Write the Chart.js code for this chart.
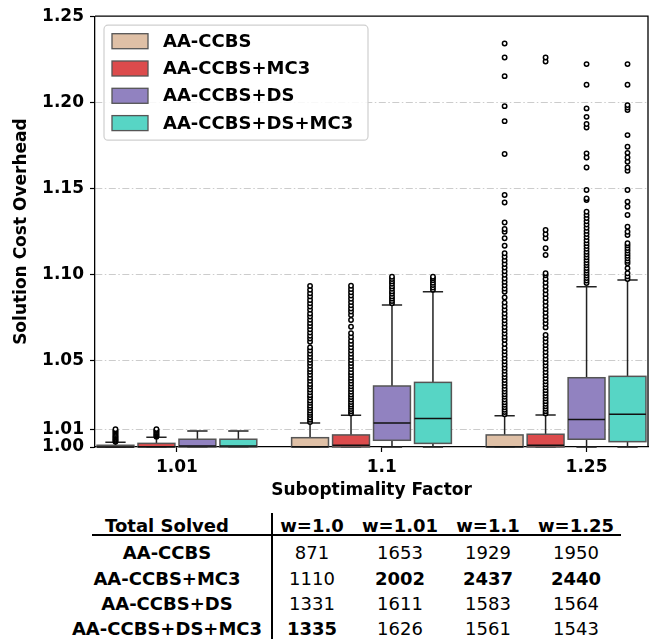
<!DOCTYPE html>
<html>
<head>
<meta charset="utf-8">
<script src="https://cdn.jsdelivr.net/npm/chart.js@4.4.1/dist/chart.umd.min.js"></script>
<style>
  html, body { margin: 0; padding: 0; background: #fff; }
  #wrap { position: relative; width: 659px; height: 639px; overflow: hidden; font-family: "DejaVu Sans", sans-serif; }
  #chart { position: absolute; left: 0; top: 0; }
  .cell { position: absolute; transform: translateX(-50%); font-size: 18px; line-height: 21px; white-space: nowrap; color: #000; }
  .b { font-weight: bold; }
  .hline { position: absolute; left: 92px; width: 529px; top: 534px; height: 1.5px; background: #000; }
  .vline { position: absolute; left: 271px; width: 1.5px; top: 513px; height: 126px; background: #000; }
</style>
</head>
<body>
<div id="wrap">
  <canvas id="chart" width="659" height="505"></canvas>
  <div id="table"></div>
</div>
<script>

/* =========================
   DATA
========================= */

const factors = ["1.01", "1.1", "1.25"];
const seriesNames = ["AA-CCBS", "AA-CCBS+MC3", "AA-CCBS+DS", "AA-CCBS+DS+MC3"];
const seriesColors = ["#dfc0a6", "#dc4b4c", "#9182c0", "#57d5c5"];
const yTicks = [1.00, 1.01, 1.05, 1.10, 1.15, 1.20, 1.25];

// [lower whisker, q1, median, q3, upper whisker] for each factor
const statsAACCBS = [
    [1.0, 1.0, 1.0, 1.001, 1.0027],
    [1.0, 1.0, 1.0002, 1.0054, 1.0139],
    [1.0, 1.0, 1.0002, 1.007, 1.0182]
];
const statsMC3 = [
    [1.0, 1.0, 1.0002, 1.0021, 1.0056],
    [1.0, 1.0, 1.001, 1.007, 1.0184],
    [1.0, 1.0, 1.001, 1.0074, 1.0186]
];
const statsDS = [
    [1.0, 1.0, 1.0006, 1.0045, 1.0093],
    [1.0, 1.0039, 1.0139, 1.0354, 1.0824],
    [1.0, 1.0045, 1.016, 1.0402, 1.093]
];
const statsDSMC3 = [
    [1.0, 1.0, 1.0006, 1.0045, 1.0093],
    [1.0, 1.0021, 1.0166, 1.0375, 1.0901],
    [1.0, 1.0031, 1.019, 1.041, 1.0969]
];

// outliers (fliers) for each factor
const outAACCBS = [
    [1.0030, 1.0036, 1.0042, 1.0048, 1.0055, 1.0061, 1.0068, 1.0075, 1.0082, 1.0089, 1.0096, 1.0103],
    [1.0145, 1.0158, 1.0171, 1.0185, 1.0198, 1.0212, 1.0227, 1.0240, 1.0256, 1.0270, 1.0287, 1.0301,
     1.0318, 1.0334, 1.0351, 1.0366, 1.0384, 1.0401, 1.0419, 1.0436, 1.0452, 1.0471, 1.0489, 1.0506,
     1.0524, 1.0541, 1.0560, 1.0578, 1.0611, 1.0629, 1.0646, 1.0664, 1.0683, 1.0702, 1.0720, 1.0738,
     1.0757, 1.0775, 1.0796, 1.0815, 1.0834, 1.0853, 1.0874, 1.0892, 1.0912, 1.0935],
    [1.0190, 1.0203, 1.0216, 1.0231, 1.0245, 1.0260, 1.0275, 1.0291, 1.0306, 1.0322, 1.0338, 1.0355,
     1.0372, 1.0389, 1.0406, 1.0424, 1.0442, 1.0460, 1.0479, 1.0497, 1.0516, 1.0536, 1.0555, 1.0574,
     1.0597, 1.0621, 1.0639, 1.0658, 1.0677, 1.0696, 1.0716, 1.0735, 1.0755, 1.0775, 1.0796, 1.0817,
     1.0838, 1.0868, 1.0901, 1.0919, 1.0938, 1.0958, 1.0978, 1.0999, 1.1020, 1.1041, 1.1062, 1.1083,
     1.1104, 1.1124, 1.1168, 1.1211, 1.1249, 1.1265, 1.1303, 1.1419, 1.1462, 1.1700, 1.1891, 1.1978,
     1.2152, 1.2260, 1.2342]
];
const outMC3 = [
    [1.0060, 1.0066, 1.0072, 1.0079, 1.0086, 1.0093, 1.0099, 1.0104],
    [1.0195, 1.0207, 1.0220, 1.0234, 1.0247, 1.0261, 1.0276, 1.0290, 1.0305, 1.0321, 1.0336, 1.0352,
     1.0368, 1.0385, 1.0401, 1.0418, 1.0434, 1.0452, 1.0470, 1.0487, 1.0505, 1.0523, 1.0541, 1.0560,
     1.0579, 1.0598, 1.0617, 1.0638, 1.0660, 1.0698, 1.0737, 1.0766, 1.0786, 1.0804, 1.0822, 1.0841,
     1.0860, 1.0879, 1.0898, 1.0917, 1.0936],
    [1.0195, 1.0208, 1.0222, 1.0236, 1.0251, 1.0266, 1.0282, 1.0297, 1.0313, 1.0330, 1.0347, 1.0364,
     1.0381, 1.0399, 1.0417, 1.0435, 1.0454, 1.0473, 1.0492, 1.0511, 1.0531, 1.0551, 1.0571, 1.0591,
     1.0611, 1.0631, 1.0650, 1.0694, 1.0717, 1.0737, 1.0758, 1.0779, 1.0800, 1.0821, 1.0843, 1.0865,
     1.0887, 1.0909, 1.0931, 1.0953, 1.0975, 1.0997, 1.1008, 1.1114, 1.1153, 1.1211, 1.1235, 1.1259,
     1.2237, 1.2260]
];
const outDS = [
    [],
    [1.0834, 1.0847, 1.0861, 1.0874, 1.0889, 1.0903, 1.0918, 1.0932, 1.0947, 1.0961, 1.0975, 1.0988],
    [1.0952, 1.0966, 1.0981, 1.0995, 1.1010, 1.1024, 1.1039, 1.1054, 1.1069, 1.1085, 1.1101, 1.1117,
     1.1133, 1.1150, 1.1166, 1.1183, 1.1200, 1.1218, 1.1236, 1.1254, 1.1272, 1.1291, 1.1310, 1.1329,
     1.1347, 1.1365, 1.1433, 1.1443, 1.1491, 1.1622, 1.1680, 1.1704, 1.1854, 1.1874, 1.1916, 1.1965,
     1.2102, 1.2222]
];
const outDSMC3 = [
    [],
    [1.0912, 1.0926, 1.0940, 1.0953, 1.0967, 1.0979, 1.0988],
    [1.0975, 1.0990, 1.1008, 1.1037, 1.1066, 1.1080, 1.1095, 1.1110, 1.1125, 1.1140, 1.1155, 1.1170,
     1.1182, 1.1230, 1.1249, 1.1278, 1.1346, 1.1394, 1.1423, 1.1491, 1.1603, 1.1622, 1.1655, 1.1680,
     1.1707, 1.1742, 1.1810, 1.1955, 1.1970, 1.1984, 1.2102, 1.2222]
];

// table "Total Solved"
const tableCols = ["w=1.0", "w=1.01", "w=1.1", "w=1.25"];
const solvedAACCBS = [871, 1653, 1929, 1950];
const solvedMC3 = [1110, 2002, 2437, 2440];
const solvedDS = [1331, 1611, 1583, 1564];
const solvedDSMC3 = [1335, 1626, 1561, 1543];

const stats = [statsAACCBS, statsMC3, statsDS, statsDSMC3];
const outliers = [outAACCBS, outMC3, outDS, outDSMC3];
const solved = [solvedAACCBS, solvedMC3, solvedDS, solvedDSMC3];


/* =========================
   LAYOUT HELPERS
========================= */

const BOX_HALF = 0.09;

function boxX(g, k) {
    return g * 0.95 + (k - 1.5) * 0.2;
}

Chart.defaults.font.family = "DejaVu Sans";
Chart.defaults.color = "#000";


/* =========================
   PLUGINS
========================= */

const boxPlugin = {
    id: "boxes",
    beforeDatasetsDraw(chart) {
        const { ctx, scales: { x, y } } = chart;
        stats.forEach((series, k) => {
            series.forEach((s, g) => {
                const cx = x.getPixelForValue(boxX(g, k));
                const half = x.getPixelForValue(boxX(g, k) + BOX_HALF) - cx;
                const [lo, q1, med, q3, hi] = s.map(v => y.getPixelForValue(v));
                const cap = half * 0.55;

                ctx.save();
                ctx.strokeStyle = "#222";
                ctx.lineWidth = 1.5;
                ctx.beginPath();
                ctx.moveTo(cx, q3); ctx.lineTo(cx, hi);
                ctx.moveTo(cx - cap, hi); ctx.lineTo(cx + cap, hi);
                ctx.moveTo(cx, q1); ctx.lineTo(cx, lo);
                ctx.moveTo(cx - cap, lo); ctx.lineTo(cx + cap, lo);
                ctx.stroke();

                ctx.fillStyle = seriesColors[k];
                ctx.fillRect(cx - half, q3, half * 2, q1 - q3);
                ctx.strokeStyle = "#555";
                ctx.strokeRect(cx - half, q3, half * 2, q1 - q3);

                ctx.strokeStyle = "#111";
                ctx.beginPath();
                ctx.moveTo(cx - half, med); ctx.lineTo(cx + half, med);
                ctx.stroke();
                ctx.restore();
            });
        });
    }
};

const framePlugin = {
    id: "frame",
    afterDatasetsDraw(chart) {
        const { ctx, chartArea: a } = chart;
        ctx.save();
        ctx.strokeStyle = "#000";
        ctx.lineWidth = 1.3;
        ctx.beginPath();
        ctx.moveTo(a.left, a.top); ctx.lineTo(a.right, a.top); ctx.lineTo(a.right, a.bottom);
        ctx.stroke();
        ctx.restore();
    }
};

const legendPlugin = {
    id: "boxLegend",
    afterDraw(chart) {
        const { ctx, chartArea: a } = chart;
        const left = a.left + 9, top = a.top + 9;
        const w = 264, h = 115, r = 4;
        ctx.save();
        ctx.fillStyle = "rgba(255,255,255,0.85)";
        ctx.strokeStyle = "#cfcfcf";
        ctx.lineWidth = 1.2;
        ctx.beginPath();
        ctx.roundRect(left, top, w, h, r);
        ctx.fill();
        ctx.stroke();

        ctx.font = "bold 18px 'DejaVu Sans'";
        ctx.textBaseline = "middle";
        seriesNames.forEach((name, k) => {
            const cy = top + 16 + k * 27.3;
            ctx.fillStyle = seriesColors[k];
            ctx.fillRect(left + 8, cy - 7.5, 36, 15);
            ctx.strokeStyle = "#555";
            ctx.lineWidth = 1.3;
            ctx.strokeRect(left + 8, cy - 7.5, 36, 15);
            ctx.fillStyle = "#000";
            ctx.fillText(name, left + 59, cy + 1);
        });
        ctx.restore();
    }
};


/* =========================
   CHART
========================= */

const datasets = seriesNames.map((name, k) => ({
    label: name,
    data: outliers[k].flatMap((vals, g) => vals.map(v => ({ x: boxX(g, k), y: v }))),
    pointRadius: 2.2,
    pointBorderWidth: 1.5,
    pointBorderColor: "#000",
    pointBackgroundColor: "#fff",
    pointHoverRadius: 2.2,
    showLine: false
}));

const tickFont = { size: 17, weight: "bold" };

new Chart(document.getElementById("chart"), {
    type: "scatter",
    data: { datasets },
    options: {
        responsive: false,
        animation: false,
        devicePixelRatio: 1,
        layout: { padding: { top: 8, right: 11, left: 0, bottom: 0 } },
        plugins: {
            legend: { display: false },
            tooltip: { enabled: false }
        },
        scales: {
            x: {
                type: "linear",
                min: -0.4,
                max: 2.3,
                afterBuildTicks: s => { s.ticks = factors.map((f, i) => ({ value: i })); },
                afterFit: s => { s.height = 58; },
                ticks: {
                    font: tickFont,
                    padding: 5,
                    callback: (v, i) => factors[i]
                },
                grid: { drawOnChartArea: false, tickLength: 5, tickColor: "#000", tickWidth: 1.2 },
                border: { color: "#000", width: 1.3 },
                title: {
                    display: true,
                    text: "Suboptimality Factor",
                    font: { size: 17, weight: "bold" },
                    padding: { top: 2, bottom: 4 }
                }
            },
            y: {
                min: 1.0,
                max: 1.25,
                afterBuildTicks: s => { s.ticks = yTicks.map(v => ({ value: v })); },
                afterFit: s => { s.width = 95; },
                ticks: {
                    font: tickFont,
                    padding: 6,
                    callback: v => v.toFixed(2)
                },
                grid: {
                    color: c => (c.index === 0 || c.index === yTicks.length - 1) ? "rgba(0,0,0,0)" : "#cccccc",
                    lineWidth: 1,
                    tickLength: 5,
                    tickColor: "#000",
                    tickWidth: 1.2
                },
                border: { color: "#000", width: 1.3, dash: [7, 2.5, 1.5, 2.5] },
                title: {
                    display: true,
                    text: "Solution Cost Overhead",
                    font: { size: 17, weight: "bold" },
                    padding: { top: 11, bottom: 4 }
                }
            }
        }
    },
    plugins: [boxPlugin, framePlugin, legendPlugin]
});


/* =========================
   TABLE
========================= */

const table = document.getElementById("table");
const colX = [167, 312, 400, 488, 576];
const rowTop = [514.5, 542, 567.5, 593, 618];

function addCell(text, x, top, bold) {
    const el = document.createElement("div");
    el.className = "cell" + (bold ? " b" : "");
    el.style.left = x + "px";
    el.style.top = top + "px";
    el.textContent = text;
    table.appendChild(el);
}

addCell("Total Solved", colX[0], rowTop[0], true);
tableCols.forEach((c, j) => addCell(c, colX[j + 1], rowTop[0], true));

seriesNames.forEach((name, k) => {
    addCell(name, colX[0], rowTop[k + 1], true);
    solved[k].forEach((v, j) => {
        const best = Math.max(...solved.map(r => r[j]));
        addCell(String(v), colX[j + 1], rowTop[k + 1], v === best);
    });
});

["hline", "vline"].forEach(c => {
    const el = document.createElement("div");
    el.className = c;
    table.appendChild(el);
});

</script>
</body>
</html>
